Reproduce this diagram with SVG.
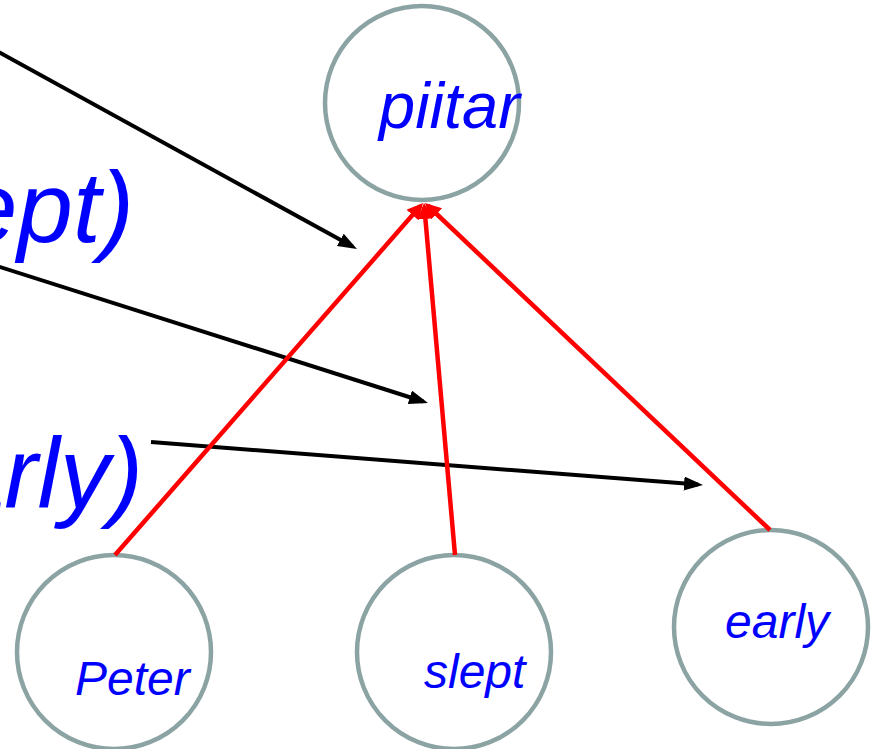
<svg xmlns="http://www.w3.org/2000/svg" width="876" height="749" viewBox="0 0 876 749">
<style>
.node{fill:#ffffff;stroke:#8ca3a4;stroke-width:4.5}
.lbl{font-family:"Liberation Sans",Arial,sans-serif;font-style:italic;fill:#0000ff}
.big{font-family:"Liberation Sans",Arial,sans-serif;font-style:italic;fill:#0000ff;font-size:100px}
.blk{stroke:#000000;stroke-width:4;fill:none}
.red{stroke:#ff0000;stroke-width:4.5;fill:none}
</style>
<defs>
<marker id="ab" markerUnits="userSpaceOnUse" markerWidth="20" markerHeight="16" refX="14" refY="7" orient="auto">
<path d="M0,0 L19,7 L0,14 z" fill="#000000"/>
</marker>
<marker id="ar" markerUnits="userSpaceOnUse" markerWidth="20" markerHeight="18" refX="12" refY="8" orient="auto">
<path d="M0,0 L16,8 L0,16 z" fill="#ff0000"/>
</marker>
</defs>
<g id="texts">
<text class="big" x="134" y="242" text-anchor="end">ept)</text>
<text class="big" x="143" y="508" text-anchor="end">arly)</text>
</g>
<g id="node-piitar">
<circle class="node" cx="422" cy="103" r="97"/>
<text class="lbl" x="379" y="128" font-size="65">piitar</text>
</g>
<g id="node-peter">
<circle class="node" cx="114" cy="652" r="97"/>
<text class="lbl" x="75" y="695" font-size="48">Peter</text>
</g>
<g id="node-slept">
<circle class="node" cx="454" cy="652" r="97"/>
<text class="lbl" x="424" y="688" font-size="48">slept</text>
</g>
<g id="node-early">
<circle class="node" cx="771" cy="627" r="97"/>
<text class="lbl" x="725" y="638" font-size="48">early</text>
</g>
<g id="connectors">
<line class="blk" x1="-5" y1="50" x2="352.6" y2="246.6" marker-end="url(#ab)"/>
<line class="blk" x1="-5" y1="265.4" x2="423.2" y2="401.5" marker-end="url(#ab)"/>
<line class="blk" x1="151" y1="442" x2="698" y2="484.6" marker-end="url(#ab)"/>
<line class="red" x1="115" y1="555" x2="420.4" y2="206" marker-end="url(#ar)"/>
<line class="red" x1="455" y1="555" x2="424.35" y2="207" marker-end="url(#ar)"/>
<line class="red" x1="770" y1="530" x2="427.9" y2="205.75" marker-end="url(#ar)"/>
</g>
</svg>
